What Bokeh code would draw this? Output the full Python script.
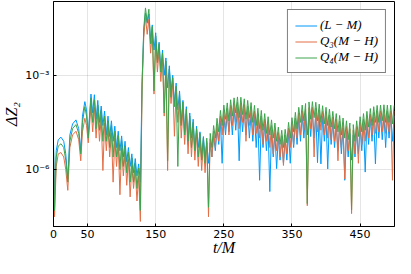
from bokeh.plotting import figure
from bokeh.models import Range1d, FixedTicker, Legend, LegendItem
from bokeh.embed import file_html
from bokeh.resources import INLINE

# time axis t/M
t = [
    0, 1.5, 4, 7, 11, 15, 18, 21, 24, 28, 33, 37, 40, 42.5, 46, 48.5, 51,
    55, 57.5, 60, 62.5, 65, 67.5, 70, 72.5, 75, 77.5, 80, 82.5, 85, 87.5, 90, 92.5,
    95, 97.5, 100, 102.5, 105, 107.5, 110, 112.5, 115, 117.5, 120, 122.5, 125, 127.5,
    130, 132.5, 135, 137.5, 140,
    142.5, 145, 147.5, 150, 152.5, 155, 157.5, 160, 162.5, 165, 167.5, 170, 172.5, 175,
    177.5, 180, 182.5, 185, 187.5, 190, 192.5, 195, 197.5, 200, 202.5, 205, 207.5, 210,
    212.5, 215, 217.5, 220, 222.5,
    225, 227.5, 230, 232.5, 235, 237.5, 240, 242.5, 245, 247.5, 250, 252.5, 255, 257.5,
    260, 262.5, 265, 267.5, 270, 272.5, 275, 277.5, 280, 282.5, 285, 287.5, 290, 292.5,
    295, 297.5, 300, 302.5, 305, 307.5, 310, 312.5, 315, 317.5, 320, 322.5, 325, 327.5,
    330, 332.5, 335, 337.5, 340, 342.5, 345, 347.5, 350, 352.5, 355, 357.5, 360, 362.5,
    365, 367.5, 370, 372.5, 375, 377.5, 380, 382.5, 385, 387.5, 390, 392.5, 395, 397.5,
    400, 402.5, 405, 407.5, 410, 412.5, 415, 417.5, 420, 422.5, 425, 427.5, 430, 432.5,
    435, 437.5, 440, 442.5, 445, 447.5, 450, 452.5, 455, 457.5, 460, 462.5, 465, 467.5,
    470, 472.5, 475, 477.5, 480, 482.5, 485, 487.5, 490, 492.5, 495, 497.5, 500,
]

# log10(Delta Z_2), series (L - M)
log_dz_lm = [
    -5.1, -6.8, -5.4, -5.05, -4.97, -5.1, -5.5, -6.3, -4.9, -4.55, -4.42, -4.7, -5.4, -4.3, -3.84, -4.1, -4.9,
    -3.60, -4.2, -3.62, -4.4, -3.80, -4.5, -3.98, -4.6, -4.14, -4.9, -4.30, -4.95, -4.45, -5.1, -4.62, -5.3,
    -4.78, -5.4, -4.93, -5.6, -5.10, -5.75, -5.30, -5.9, -5.50, -6.1, -5.65, -6.2, -5.82, -6.4,
    -3.2, -1.6, -1.02, -1.35, -1.05,
    -1.9, -1.40, -2.2, -1.65, -2.5, -1.95, -2.8, -2.20, -3.0, -2.45, -3.4, -2.70, -3.5, -3.00,
    -3.9, -3.25, -4.1, -3.50, -4.5, -3.80, -4.8, -4.00, -5.2, -4.20, -5.0, -4.40, -5.4, -4.62,
    -5.3, -4.80, -5.6, -4.95, -5.6,
    -5.15, -5.8, -5.15, -5.6, -4.92, -5.4, -4.70, -5.2, -4.45, -5.8, -4.28, -4.9, -4.20, -4.8,
    -4.12, -4.9, -4.05, -4.75, -4.02, -5.72, -4.03, -4.8, -4.08, -4.9, -4.13, -5.0, -4.20, -5.1,
    -4.28, -5.3, -4.38, -6.34, -4.45, -5.3, -4.55, -5.4, -4.65, -6.7, -4.75, -5.6, -4.85, -5.97,
    -4.95, -5.7, -5.05, -5.8, -5.02, -5.7, -4.82, -5.8, -4.68, -5.3, -4.50, -5.2, -4.35, -5.1,
    -4.28, -5.0, -4.22, -4.9, -4.18, -4.95, -4.17, -5.0, -4.19, -5.78, -4.25, -5.82, -4.30, -5.1,
    -4.35, -5.98, -4.40, -5.2, -4.48, -5.3, -4.55, -5.4, -4.60, -5.5, -4.68, -6.34, -4.78, -5.6,
    -4.85, -5.7, -4.90, -5.6, -4.78, -5.5, -4.65, -5.4, -4.55, -6.08, -4.48, -5.2, -4.39, -5.1,
    -4.33, -5.82, -4.29, -5.0, -4.28, -5.05, -4.27, -5.3, -4.28, -5.0, -4.28, -5.1, -4.29,
]

# series Q_3(M - H)
log_dz_q3 = [
    -5.6, -7.5, -5.9, -5.5, -5.46, -5.6, -6.0, -6.66, -5.3, -4.9, -4.78, -5.05, -5.72, -4.8, -4.37, -4.6, -5.15,
    -3.98, -4.8, -4.02, -5.0, -4.18, -5.1, -4.35, -6.03, -4.52, -5.4, -4.68, -5.6, -4.83, -6.4, -5.0, -5.9,
    -5.15, -6.8, -5.32, -6.2, -5.48, -6.5, -5.68, -6.87, -5.88, -6.6, -6.02, -7.0, -6.2, -7.65,
    -3.5, -1.8, -1.15, -1.7, -1.22,
    -2.3, -1.65, -3.6, -1.9, -2.9, -2.2, -3.2, -2.45, -4.3, -2.7, -6.03, -2.95, -3.9, -3.25,
    -4.94, -3.5, -4.5, -3.75, -5.0, -4.05, -5.2, -4.25, -5.5, -4.45, -5.6, -4.65, -5.7, -4.85,
    -5.9, -5.0, -6.03, -5.15, -6.1,
    -5.10, -7.5, -5.02, -5.6, -4.78, -5.3, -4.55, -5.1, -4.30, -4.9, -4.13, -4.7, -4.05, -4.9,
    -3.96, -4.6, -3.90, -4.5, -3.86, -4.7, -3.88, -4.5, -3.93, -5.1, -3.98, -4.6, -4.05, -4.9,
    -4.14, -4.85, -4.22, -5.0, -4.30, -5.2, -4.40, -5.1, -4.50, -5.3, -4.60, -5.5, -4.70, -5.4,
    -4.82, -5.6, -4.92, -5.87, -4.90, -5.5, -4.68, -5.3, -4.52, -5.2, -4.36, -5.0, -4.20, -4.9,
    -4.13, -4.75, -4.08, -7.15, -4.03, -4.7, -4.02, -5.6, -4.04, -4.8, -4.10, -4.75, -4.15, -4.9,
    -4.20, -5.0, -4.26, -5.05, -4.33, -5.1, -4.40, -5.72, -4.46, -5.3, -4.54, -6.3, -4.63, -5.4,
    -4.70, -7.4, -4.75, -5.5, -4.63, -5.8, -4.50, -5.2, -4.40, -5.1, -4.33, -5.0, -4.24, -4.9,
    -4.18, -4.85, -4.14, -4.8, -4.13, -4.8, -4.12, -4.85, -4.13, -4.8, -4.13, -6.34, -4.14,
]

# series Q_4(M - H)
log_dz_q4 = [
    -5.3, -7.3, -5.6, -5.25, -5.18, -5.3, -5.7, -6.4, -5.1, -4.7, -4.57, -4.85, -5.5, -4.5, -4.0, -4.3, -5.0,
    -3.72, -4.5, -3.78, -4.7, -3.95, -4.75, -4.12, -5.1, -4.30, -5.1, -4.45, -5.3, -4.60, -5.6, -4.78, -5.6,
    -4.92, -6.0, -5.08, -5.9, -5.25, -6.1, -5.45, -6.4, -5.63, -6.4, -5.80, -6.6, -5.95, -7.3,
    -3.3, -1.5, -0.86, -1.3, -0.9,
    -2.0, -1.45, -3.5, -1.75, -2.6, -2.0, -2.9, -2.3, -4.2, -2.55, -5.72, -2.8, -3.7, -3.08,
    -4.0, -3.35, -5.9, -3.6, -4.6, -3.85, -4.9, -4.08, -5.1, -4.3, -5.3, -4.5, -5.4, -4.7,
    -5.6, -4.85, -5.7, -5.0, -5.8,
    -5.00, -7.2, -4.85, -5.3, -4.60, -5.0, -4.37, -4.8, -4.12, -4.6, -3.95, -4.4, -3.88, -4.45,
    -3.78, -4.3, -3.72, -4.2, -3.69, -4.35, -3.70, -4.25, -3.75, -4.4, -3.80, -4.35, -3.87, -4.5,
    -3.96, -4.6, -4.05, -4.7, -4.12, -4.75, -4.22, -4.85, -4.32, -4.9, -4.42, -5.0, -4.52, -5.1,
    -4.65, -5.2, -4.75, -5.3, -4.72, -5.15, -4.50, -5.0, -4.35, -4.8, -4.18, -4.7, -4.02, -4.5,
    -3.95, -4.45, -3.90, -7.08, -3.85, -4.4, -3.84, -4.35, -3.86, -4.45, -3.92, -4.5, -3.97, -4.55,
    -4.02, -4.6, -4.08, -4.65, -4.15, -4.7, -4.22, -4.8, -4.28, -4.9, -4.36, -5.0, -4.45, -5.05,
    -4.52, -7.28, -4.57, -5.1, -4.45, -4.95, -4.32, -4.8, -4.22, -4.75, -4.15, -4.65, -4.06, -4.6,
    -4.00, -4.5, -3.96, -4.5, -3.95, -4.45, -3.94, -4.5, -3.95, -4.5, -3.95, -4.55, -3.96,
]

series_labels = ["(L − M)", "Q₃(M − H)", "Q₄(M − H)"]
series_colors = ["#009AFA", "#E36F47", "#3EA44E"]

x_ticks = [0, 50, 150, 250, 350, 450]
y_ticks = [1e-6, 1e-3]
y_tick_labels = {1e-6: "10⁻⁶", 1e-3: "10⁻³"}
x_title = "t/M"
y_title = "ΔZ₂"

assert len(t) == len(log_dz_lm) == len(log_dz_q3) == len(log_dz_q4), (
    len(t), len(log_dz_lm), len(log_dz_q3), len(log_dz_q4))

dz_lm = [10 ** v for v in log_dz_lm]
dz_q3 = [10 ** v for v in log_dz_q3]
dz_q4 = [10 ** v for v in log_dz_q4]

p = figure(width=395, height=258, y_axis_type="log",
           x_range=Range1d(0, 500.5), y_range=Range1d(10 ** -7.81, 10 ** -0.656),
           output_backend="svg", toolbar_location=None,
           min_border_left=44, min_border_right=1, min_border_top=1, min_border_bottom=30,
           background_fill_color="white", border_fill_color="white")
p.outline_line_color = "black"
p.outline_line_width = 1

renderers = []
for ys, c in zip([dz_lm, dz_q3, dz_q4], series_colors):
    renderers.append(p.line(t, ys, line_color=c, line_width=1))

# axes
for ax in (p.xaxis[0], p.yaxis[0]):
    ax.axis_line_color = "black"
    ax.major_tick_line_color = "black"
    ax.major_tick_in = 3
    ax.major_tick_out = 0
    ax.minor_tick_line_color = None
    ax.major_label_text_font = "DejaVu Sans"
    ax.major_label_text_font_size = "11px"
    ax.major_label_text_color = "black"
    ax.axis_label_text_font = "Liberation Serif"
    ax.axis_label_text_font_style = "italic"
    ax.axis_label_text_font_size = "16px"
    ax.axis_label_text_color = "black"

p.xaxis[0].ticker = FixedTicker(ticks=x_ticks)
p.xaxis[0].axis_label = x_title
p.xaxis[0].major_label_standoff = 3
p.xaxis[0].axis_label_standoff = -2
p.yaxis[0].ticker = FixedTicker(ticks=y_ticks)
p.yaxis[0].major_label_overrides = y_tick_labels
p.yaxis[0].axis_label = y_title
p.yaxis[0].major_label_standoff = 4
p.yaxis[0].axis_label_standoff = 2

p.xgrid.grid_line_color = "black"
p.xgrid.grid_line_alpha = 0.1
p.ygrid.grid_line_color = "black"
p.ygrid.grid_line_alpha = 0.1

legend = Legend(items=[LegendItem(label=lab, renderers=[r]) for lab, r in zip(series_labels, renderers)],
                location="top_right", margin=8, padding=7, spacing=0,
                glyph_width=22, glyph_height=15, label_height=15, label_standoff=3,
                label_text_font="Liberation Serif", label_text_font_style="italic",
                label_text_font_size="13px", label_text_color="black",
                border_line_color="black", border_line_width=1,
                background_fill_color="white", background_fill_alpha=1)
p.add_layout(legend)

open("out.html", "w").write(file_html(p, INLINE))
